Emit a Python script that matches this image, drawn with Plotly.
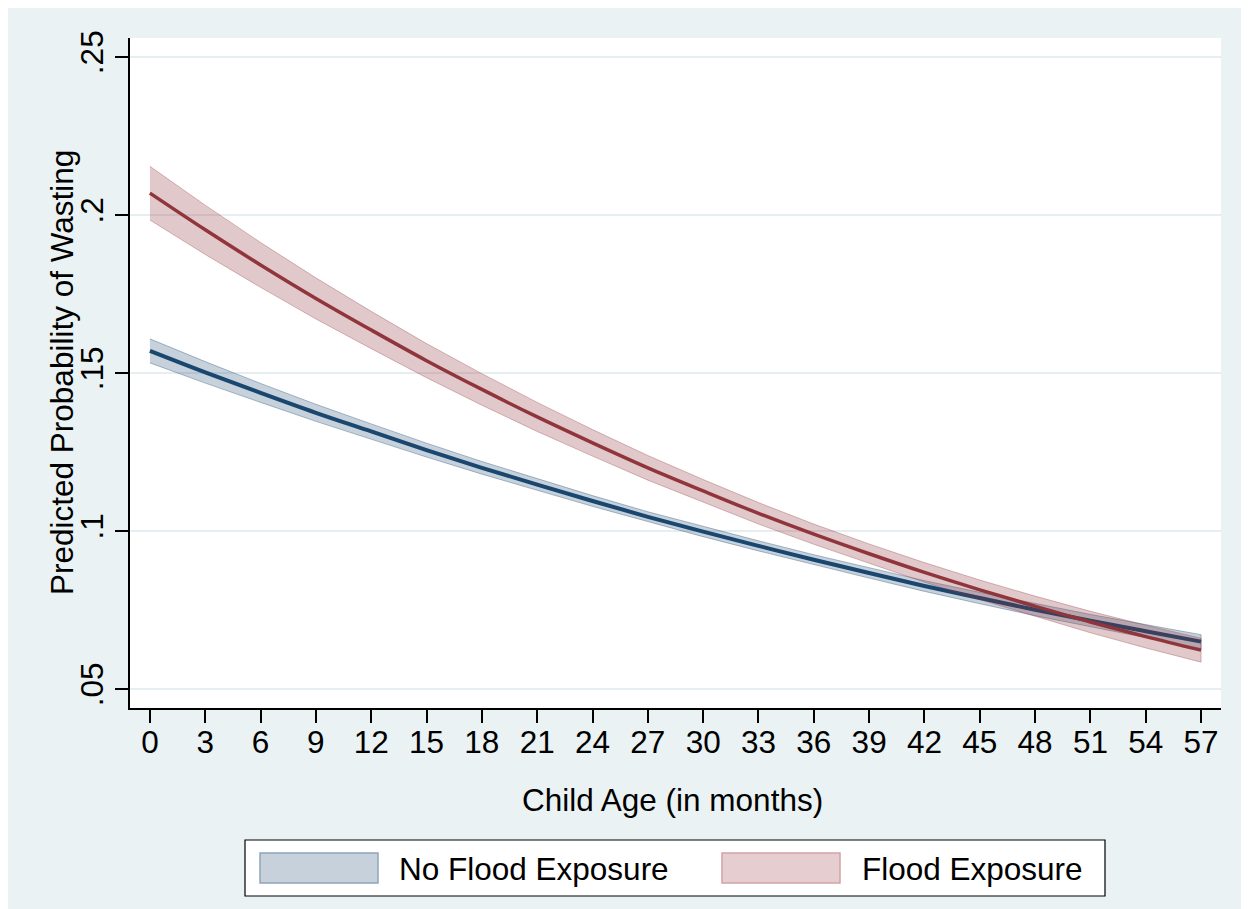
import plotly.graph_objects as go

# ---- data ----
age = [0, 3, 6, 9, 12, 15, 18, 21, 24, 27, 30, 33, 36, 39, 42, 45, 48, 51, 54, 57]

no_flood = [0.1570, 0.1502, 0.1437, 0.1374, 0.1315, 0.1256, 0.1200, 0.1147, 0.1095, 0.1045,
            0.0998, 0.0953, 0.0909, 0.0867, 0.0826, 0.0788, 0.0751, 0.0716, 0.0683, 0.0650]
no_flood_lo = [0.1532, 0.1468, 0.1407, 0.1347, 0.1291, 0.1234, 0.1180, 0.1129, 0.1078, 0.1029,
               0.0982, 0.0937, 0.0893, 0.0851, 0.0809, 0.0770, 0.0732, 0.0696, 0.0662, 0.0628]
no_flood_hi = [0.1608, 0.1536, 0.1467, 0.1401, 0.1339, 0.1278, 0.1220, 0.1165, 0.1112, 0.1061,
               0.1014, 0.0969, 0.0925, 0.0883, 0.0843, 0.0806, 0.0770, 0.0736, 0.0704, 0.0672]

flood = [0.2069, 0.1953, 0.1842, 0.1736, 0.1636, 0.1539, 0.1448, 0.1361, 0.1279, 0.1200,
         0.1127, 0.1056, 0.0990, 0.0928, 0.0869, 0.0814, 0.0762, 0.0712, 0.0666, 0.0623]
flood_lo = [0.1984, 0.1875, 0.1771, 0.1671, 0.1577, 0.1485, 0.1398, 0.1315, 0.1237, 0.1161,
            0.1091, 0.1022, 0.0958, 0.0897, 0.0838, 0.0783, 0.0730, 0.0678, 0.0630, 0.0585]
flood_hi = [0.2154, 0.2031, 0.1913, 0.1801, 0.1695, 0.1593, 0.1498, 0.1407, 0.1321, 0.1239,
            0.1163, 0.1090, 0.1022, 0.0959, 0.0900, 0.0845, 0.0794, 0.0746, 0.0702, 0.0661]

x_ticks = list(range(0, 58, 3))
y_ticks = [0.05, 0.10, 0.15, 0.20, 0.25]
y_ticktext = [".05", ".1", ".15", ".2", ".25"]

legend_labels = ["No Flood Exposure", "Flood Exposure"]
x_title = "Child Age (in months)"
y_title = "Predicted Probability of Wasting"

# ---- styles ----
NAVY = "#1a476f"
MAROON = "#90353b"
NAVY_FILL = "rgba(26,71,111,0.25)"
MAROON_FILL = "rgba(144,53,59,0.27)"
NAVY_EDGE = "rgba(26,71,111,0.35)"
MAROON_EDGE = "rgba(144,53,59,0.32)"
BG = "#eaf2f3"
FONT = "Liberation Sans, Arial, Helvetica, sans-serif"
FS = 31.5

fig = go.Figure()

def band(lo, hi, fill, edge):
    fig.add_trace(go.Scatter(
        x=age + age[::-1], y=hi + lo[::-1], mode="lines", fill="toself",
        fillcolor=fill, line=dict(color=edge, width=1), showlegend=False,
        hoverinfo="skip"))

band(no_flood_lo, no_flood_hi, NAVY_FILL, NAVY_EDGE)
fig.add_trace(go.Scatter(x=age, y=no_flood, mode="lines", line=dict(color=NAVY, width=4, shape="spline"),
                         showlegend=False, name=legend_labels[0]))
band(flood_lo, flood_hi, MAROON_FILL, MAROON_EDGE)
fig.add_trace(go.Scatter(x=age, y=flood, mode="lines", line=dict(color=MAROON, width=3.5, shape="spline"),
                         showlegend=False, name=legend_labels[1]))

# geometry (absolute screen pixels; page body adds an 8px offset)
OFF = 8
L, R, T, B = 130, 1221, 38, 708
W, H = 1249, 909
def px(x):
    return (x - L) / (R - L)
def py(y):
    return (B - y) / (B - T)

shapes = [
    dict(type="rect", xref="paper", yref="paper", x0=px(245), x1=px(1105), y0=py(896), y1=py(840),
         fillcolor="white", line=dict(color="black", width=1.2), layer="above"),
    dict(type="rect", xref="paper", yref="paper", x0=px(260), x1=px(378), y0=py(883), y1=py(853),
         fillcolor="#c6d1db", line=dict(color="#8fa5bb", width=1.5), layer="above"),
    dict(type="rect", xref="paper", yref="paper", x0=px(722), x1=px(840), y0=py(883), y1=py(853),
         fillcolor="#e6cdd0", line=dict(color="#d3a2a7", width=1.5), layer="above"),
]

annotations = [
    dict(text=legend_labels[0], xref="paper", yref="paper", x=px(397), y=py(869),
         xanchor="left", yanchor="middle", showarrow=False, font=dict(size=FS, color="black", family=FONT)),
    dict(text=legend_labels[1], xref="paper", yref="paper", x=px(860), y=py(869),
         xanchor="left", yanchor="middle", showarrow=False, font=dict(size=FS, color="black", family=FONT)),
    dict(text=x_title, xref="paper", yref="paper", x=px(672), y=py(800),
         xanchor="center", yanchor="middle", showarrow=False, font=dict(size=FS, color="black", family=FONT)),
    dict(text=y_title, xref="paper", yref="paper", x=px(62), y=py(373), textangle=-90,
         xanchor="center", yanchor="middle", showarrow=False, font=dict(size=FS, color="black", family=FONT)),
]

fig.update_layout(
    width=W, height=H,
    margin=dict(l=L - OFF, r=W - (R - OFF), t=T - OFF, b=H - (B - OFF)),
    paper_bgcolor=BG, plot_bgcolor="white",
    font=dict(family=FONT, size=FS, color="black"),
    shapes=shapes, annotations=annotations, showlegend=False,
    xaxis=dict(range=[-1.08, 58.08], tickvals=x_ticks, ticks="outside", ticklen=13, tickwidth=1.5,
               tickcolor="black", showline=True, linecolor="black", linewidth=1.5, showgrid=False,
               zeroline=False, tickfont=dict(size=FS), ticklabelstandoff=-8),
    yaxis=dict(range=[0.044, 0.256], tickvals=y_ticks, ticktext=y_ticktext, tickangle=-90,
               ticks="outside", ticklen=13, tickwidth=1.5, tickcolor="black", showline=True,
               linecolor="black", linewidth=1.5, showgrid=True, gridcolor="#e6eef1", gridwidth=1.5,
               zeroline=False, tickfont=dict(size=FS), ticklabelstandoff=0),
)

fig.write_html("out.html")
